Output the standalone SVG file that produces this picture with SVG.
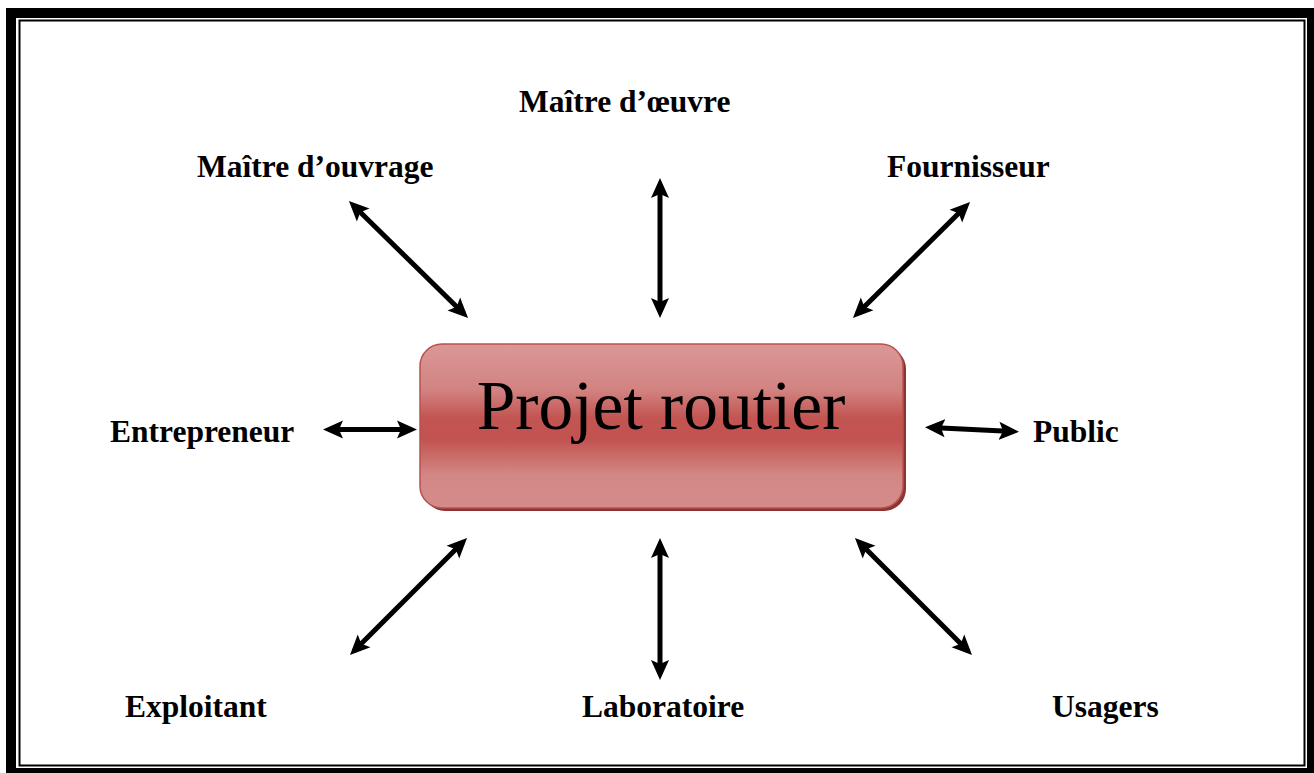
<svg xmlns="http://www.w3.org/2000/svg" width="1314" height="773" viewBox="0 0 1314 773">
<defs>
<style>
.lbl{font-family:"Liberation Serif","Times New Roman",serif;font-weight:bold;font-size:31.5px;fill:#000}
.main{font-family:"Liberation Serif","Times New Roman",serif;font-size:69.5px;fill:#000}
.arr{stroke:#000;stroke-width:5;fill:none;marker-start:url(#ah);marker-end:url(#ah)}
</style>
<marker id="ah" viewBox="0 0 20 20" refX="14" refY="10" markerWidth="20" markerHeight="20" markerUnits="userSpaceOnUse" orient="auto-start-reverse">
<path d="M0,1 L20,10 L0,19 L4,10 z" fill="#000"/>
</marker>
<linearGradient id="g" x1="0" y1="0" x2="0" y2="1">
<stop offset="0" stop-color="#da9896"/>
<stop offset="0.28" stop-color="#d28381"/>
<stop offset="0.45" stop-color="#c25552"/>
<stop offset="0.58" stop-color="#c2524f"/>
<stop offset="0.8" stop-color="#d38886"/>
<stop offset="1" stop-color="#d48b89"/>
</linearGradient>
</defs>
<rect x="0" y="0" width="1314" height="773" fill="#fff"/>
<g id="frame" fill="none">
<rect x="11" y="13" width="1301" height="760" stroke="#000" stroke-width="10"/>
<rect x="19.5" y="20.5" width="1285" height="745" stroke="#000" stroke-width="2"/>
</g>
<g id="center">
<rect x="423" y="347" width="483" height="164" rx="22" fill="#8a3533"/>
<rect x="420" y="344" width="483" height="164" rx="22" fill="url(#g)" stroke="#b9514e" stroke-width="1.5"/>
<text class="main" x="661" y="429" text-anchor="middle">Projet routier</text>
</g>
<g id="connectors">
<path class="arr" d="M353.2,205.2 L463.8,313.8"/>
<path class="arr" d="M660,184 L660,312"/>
<path class="arr" d="M965.8,206.2 L857.2,313.8"/>
<path class="arr" d="M329,429.5 L411,429.5"/>
<path class="arr" d="M931,427.5 L1013,431.5"/>
<path class="arr" d="M354.2,650.8 L462.8,542.2"/>
<path class="arr" d="M660,544 L660,674"/>
<path class="arr" d="M859.2,542.2 L967.8,650.8"/>
</g>
<g id="n-maitre-oeuvre"><text class="lbl" x="519" y="112">Maître d’œuvre</text></g>
<g id="n-maitre-ouvrage"><text class="lbl" x="197" y="177">Maître d’ouvrage</text></g>
<g id="n-fournisseur"><text class="lbl" x="887" y="177">Fournisseur</text></g>
<g id="n-entrepreneur"><text class="lbl" x="110" y="442">Entrepreneur</text></g>
<g id="n-public"><text class="lbl" x="1033" y="442">Public</text></g>
<g id="n-exploitant"><text class="lbl" x="125" y="717">Exploitant</text></g>
<g id="n-laboratoire"><text class="lbl" x="582" y="717">Laboratoire</text></g>
<g id="n-usagers"><text class="lbl" x="1052" y="717">Usagers</text></g>
</svg>
